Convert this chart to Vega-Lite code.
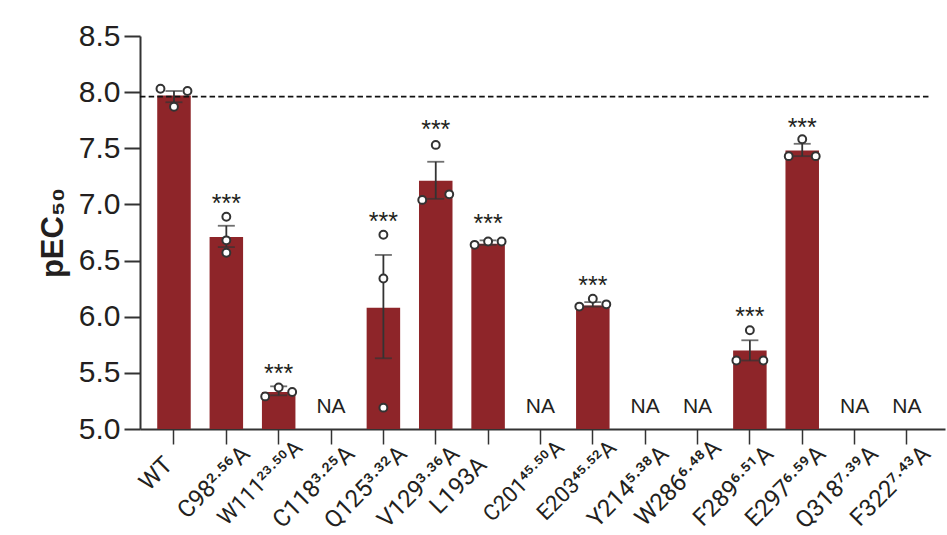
{
  "$schema": "https://vega.github.io/schema/vega-lite/v6.json",
  "width": 805,
  "height": 393,
  "autosize": "none",
  "padding": {"left": 140, "top": 36, "right": 2, "bottom": 106},
  "background": "white",
  "config": {"view": {"stroke": null}, "font": "Liberation Sans"},
  "datasets": {
    "bars": [
      {"mutant": "WT", "mean": 7.97, "low": 7.91, "high": 8.01},
      {"mutant": "C98²·⁵⁶A", "mean": 6.71, "low": 6.62, "high": 6.81},
      {"mutant": "W111²³·⁵⁰A", "mean": 5.33, "low": 5.3, "high": 5.38},
      {"mutant": "Q125³·³²A", "mean": 6.08, "low": 5.63, "high": 6.55},
      {"mutant": "V129³·³⁶A", "mean": 7.21, "low": 7.05, "high": 7.38},
      {"mutant": "L193A", "mean": 6.65, "low": 6.64, "high": 6.68},
      {"mutant": "E203⁴⁵·⁵²A", "mean": 6.1, "low": 6.09, "high": 6.13},
      {"mutant": "F289⁶·⁵¹A", "mean": 5.7, "low": 5.61, "high": 5.79},
      {"mutant": "E297⁶·⁵⁹A", "mean": 7.48, "low": 7.43, "high": 7.54}
    ],
    "points": [
      {"mutant": "WT", "slot": "left", "value": 8.03},
      {"mutant": "WT", "slot": "center", "value": 7.87},
      {"mutant": "WT", "slot": "right", "value": 8.01},
      {"mutant": "C98²·⁵⁶A", "slot": "center", "value": 6.89},
      {"mutant": "C98²·⁵⁶A", "slot": "center", "value": 6.68},
      {"mutant": "C98²·⁵⁶A", "slot": "center", "value": 6.57},
      {"mutant": "W111²³·⁵⁰A", "slot": "left", "value": 5.29},
      {"mutant": "W111²³·⁵⁰A", "slot": "center", "value": 5.37},
      {"mutant": "W111²³·⁵⁰A", "slot": "right", "value": 5.33},
      {"mutant": "Q125³·³²A", "slot": "center", "value": 6.73},
      {"mutant": "Q125³·³²A", "slot": "center", "value": 6.34},
      {"mutant": "Q125³·³²A", "slot": "center", "value": 5.19},
      {"mutant": "V129³·³⁶A", "slot": "left", "value": 7.04},
      {"mutant": "V129³·³⁶A", "slot": "center", "value": 7.53},
      {"mutant": "V129³·³⁶A", "slot": "right", "value": 7.09},
      {"mutant": "L193A", "slot": "left", "value": 6.64},
      {"mutant": "L193A", "slot": "center", "value": 6.67},
      {"mutant": "L193A", "slot": "right", "value": 6.67},
      {"mutant": "E203⁴⁵·⁵²A", "slot": "left", "value": 6.09},
      {"mutant": "E203⁴⁵·⁵²A", "slot": "center", "value": 6.16},
      {"mutant": "E203⁴⁵·⁵²A", "slot": "right", "value": 6.11},
      {"mutant": "F289⁶·⁵¹A", "slot": "left", "value": 5.61},
      {"mutant": "F289⁶·⁵¹A", "slot": "center", "value": 5.88},
      {"mutant": "F289⁶·⁵¹A", "slot": "right", "value": 5.61},
      {"mutant": "E297⁶·⁵⁹A", "slot": "left", "value": 7.43},
      {"mutant": "E297⁶·⁵⁹A", "slot": "center", "value": 7.58},
      {"mutant": "E297⁶·⁵⁹A", "slot": "right", "value": 7.43}
    ],
    "notes": [
      {"mutant": "C98²·⁵⁶A", "note": "***", "at": 7.0},
      {"mutant": "W111²³·⁵⁰A", "note": "***", "at": 5.49},
      {"mutant": "Q125³·³²A", "note": "***", "at": 6.84},
      {"mutant": "V129³·³⁶A", "note": "***", "at": 7.66},
      {"mutant": "L193A", "note": "***", "at": 6.83},
      {"mutant": "E203⁴⁵·⁵²A", "note": "***", "at": 6.27},
      {"mutant": "F289⁶·⁵¹A", "note": "***", "at": 6.0},
      {"mutant": "E297⁶·⁵⁹A", "note": "***", "at": 7.68}
    ],
    "missing": [
      {"mutant": "C118³·²⁵A", "note": "NA", "at": 5.2},
      {"mutant": "C201⁴⁵·⁵⁰A", "note": "NA", "at": 5.2},
      {"mutant": "Y214⁵·³⁸A", "note": "NA", "at": 5.2},
      {"mutant": "W286⁶·⁴⁸A", "note": "NA", "at": 5.2},
      {"mutant": "Q318⁷·³⁹A", "note": "NA", "at": 5.2},
      {"mutant": "F322⁷·⁴³A", "note": "NA", "at": 5.2}
    ]
  },
  "encoding": {
    "x": {
      "field": "mutant",
      "type": "nominal",
      "sort": null,
      "title": null,
      "scale": {
        "domain": ["WT", "C98²·⁵⁶A", "W111²³·⁵⁰A", "C118³·²⁵A", "Q125³·³²A", "V129³·³⁶A", "L193A", "C201⁴⁵·⁵⁰A", "E203⁴⁵·⁵²A", "Y214⁵·³⁸A", "W286⁶·⁴⁸A", "F289⁶·⁵¹A", "E297⁶·⁵⁹A", "Q318⁷·³⁹A", "F322⁷·⁴³A"],
        "paddingInner": 0.36,
        "paddingOuter": 0.368,
        "align": 0.447
      },
      "axis": {
        "labelAngle": -45,
        "labelAlign": "right",
        "labelBaseline": "middle",
        "labelFont": "Roboto",
        "labelFontSize": {
          "condition": {"test": "length(datum.value) >= 10", "value": 22},
          "value": 24
        },
        "labelColor": "#231f20",
        "labelPadding": {
          "condition": [
            {"test": "datum.value === 'WT' || datum.value === 'L193A'", "value": 17},
            {"test": "length(datum.value) >= 10 || datum.value === 'W286⁶·⁴⁸A'", "value": 0}
          ],
          "value": 6
        },
        "labelOffset": {
          "condition": {"test": "datum.value === 'WT' || datum.value === 'L193A'", "value": -5},
          "value": 20
        },
        "labelOverlap": false,
        "labelLimit": 200,
        "tickSize": 15,
        "tickWidth": 1.5,
        "tickColor": "#333333",
        "domainColor": "#333333",
        "domainWidth": 2,
        "grid": false
      }
    }
  },
  "layer": [
    {
      "data": {"name": "bars"},
      "mark": {"type": "bar", "color": "#8e2529"},
      "encoding": {
        "y": {
          "field": "mean",
          "type": "quantitative",
          "scale": {"domain": [5, 8.5], "nice": false, "zero": false},
          "title": "pEC₅₀",
          "axis": {
            "values": [5, 5.5, 6, 6.5, 7, 7.5, 8, 8.5],
            "format": ".1f",
            "labelFontSize": 30,
            "labelColor": "#231f20",
            "labelPadding": 4,
            "tickSize": 16,
            "tickWidth": 2,
            "tickColor": "#333333",
            "domainColor": "#333333",
            "domainWidth": 2,
            "grid": false,
            "titleFontSize": 31,
            "titleFontWeight": "bold",
            "titleColor": "#231f20",
            "titlePadding": 9
          }
        },
        "y2": {"datum": 5}
      }
    },
    {
      "data": {"name": "bars"},
      "mark": {"type": "rule", "color": "#333333", "strokeWidth": 1.8},
      "encoding": {
        "y": {"field": "low", "type": "quantitative"},
        "y2": {"field": "high"}
      }
    },
    {
      "data": {"name": "bars"},
      "mark": {"type": "tick", "color": "#333333", "thickness": 1.8, "size": 17, "bandSize": 17},
      "encoding": {"y": {"field": "low", "type": "quantitative"}}
    },
    {
      "data": {"name": "bars"},
      "mark": {"type": "tick", "color": "#333333", "thickness": 1.8, "size": 17, "bandSize": 17},
      "encoding": {"y": {"field": "high", "type": "quantitative"}}
    },
    {
      "data": {"values": [{"wt": 7.96}]},
      "mark": {"type": "rule", "color": "#111111", "strokeWidth": 1.8, "strokeDash": [5.5, 3.2]},
      "encoding": {
        "x": {"datum": "WT", "bandPosition": -0.515},
        "x2": {"datum": "F322⁷·⁴³A", "bandPosition": 1.22},
        "y": {"field": "wt", "type": "quantitative"}
      }
    },
    {
      "data": {"name": "points"},
      "transform": [{"filter": "datum.slot === 'left'"}],
      "mark": {"type": "point", "filled": true, "fill": "white", "stroke": "#333333", "strokeWidth": 2, "size": 62, "opacity": 1, "xOffset": -13.5},
      "encoding": {"y": {"field": "value", "type": "quantitative"}}
    },
    {
      "data": {"name": "points"},
      "transform": [{"filter": "datum.slot === 'center'"}],
      "mark": {"type": "point", "filled": true, "fill": "white", "stroke": "#333333", "strokeWidth": 2, "size": 62, "opacity": 1},
      "encoding": {"y": {"field": "value", "type": "quantitative"}}
    },
    {
      "data": {"name": "points"},
      "transform": [{"filter": "datum.slot === 'right'"}],
      "mark": {"type": "point", "filled": true, "fill": "white", "stroke": "#333333", "strokeWidth": 2, "size": 62, "opacity": 1, "xOffset": 13.5},
      "encoding": {"y": {"field": "value", "type": "quantitative"}}
    },
    {
      "data": {"name": "notes"},
      "mark": {"type": "text", "fontSize": 25, "color": "#231f20"},
      "encoding": {
        "y": {"field": "at", "type": "quantitative"},
        "text": {"field": "note"}
      }
    },
    {
      "data": {"name": "missing"},
      "mark": {"type": "text", "fontSize": 21, "color": "#231f20"},
      "encoding": {
        "y": {"field": "at", "type": "quantitative"},
        "text": {"field": "note"}
      }
    }
  ]
}
